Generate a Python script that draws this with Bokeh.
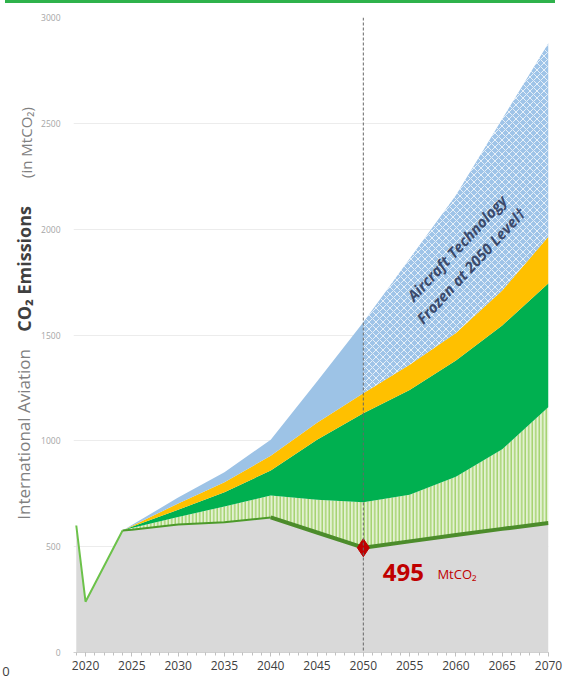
import math
from bokeh.plotting import figure
from bokeh.models import Range1d, FixedTicker, Span, Div
from bokeh.layouts import row, column
from bokeh.embed import file_html
from bokeh.resources import INLINE
from bokeh.core.properties import value

# ---- data (MtCO2) ----
hist_years = [2019, 2020, 2024]
hist_vals = [600, 240, 576]

years = [2024, 2025, 2030, 2035, 2040, 2045, 2050, 2055, 2060, 2065, 2070]
residual = [576, 580, 605, 615, 638, 567, 495, 525, 555, 584, 612]      # grey area top
hatched_top = [576, 588, 640, 690, 742, 722, 710, 745, 830, 960, 1160]   # light green hatched
green_top = [576, 594, 675, 757, 860, 1005, 1130, 1240, 1380, 1545, 1745]
orange_top = [576, 598, 704, 804, 930, 1085, 1225, 1360, 1510, 1710, 1965]
blue_top = [576, 602, 732, 852, 1005, 1280, 1560, 1860, 2160, 2520, 2880]

x_ticks = [2020, 2025, 2030, 2035, 2040, 2045, 2050, 2055, 2060, 2065, 2070]
y_ticks = [0, 500, 1000, 1500, 2000, 2500, 3000]
marker_year = 2050
marker_val = 495

FONT = "Open Sans"
LEFT_W = 36
FIG_H = 678

# ---- main chart ----
p = figure(width=563 - LEFT_W, height=FIG_H, output_backend="svg", toolbar_location=None,
           x_range=Range1d(2018.7, 2070), y_range=Range1d(0, 3000),
           min_border_left=73 - LEFT_W, min_border_right=15, min_border_top=14,
           min_border_bottom=29)
p.outline_line_color = None
p.background_fill_color = "white"

gx = hist_years + years[1:]
gy = hist_vals + residual[1:]
p.varea(x=gx, y1=[0] * len(gx), y2=gy, fill_color="#d9d9d9")

p.varea(x=years, y1=residual, y2=hatched_top, fill_color="#e3f1d2",
        hatch_pattern="vertical_line", hatch_color="#9ccf63",
        hatch_scale=3.5, hatch_weight=1.3)
p.varea(x=years, y1=hatched_top, y2=green_top, fill_color="#00b050")
p.varea(x=years, y1=green_top, y2=orange_top, fill_color="#ffc000")
i50 = years.index(2050)
p.varea(x=years[:i50 + 1], y1=orange_top[:i50 + 1], y2=blue_top[:i50 + 1],
        fill_color="#9dc3e6")
p.varea(x=years[i50:], y1=orange_top[i50:], y2=blue_top[i50:],
        fill_color="#9fc4e8", hatch_pattern="diagonal_cross",
        hatch_color="white", hatch_scale=7, hatch_weight=1.0, hatch_alpha=0.75)

p.line(hist_years, hist_vals, line_color="#6cc24a", line_width=2)
i40 = years.index(2040)
p.line(years[:i40 + 1], residual[:i40 + 1], line_color="#4c9a2a", line_width=2)
p.line(years[i40:], residual[i40:], line_color="#4c8c2b", line_width=4)

p.add_layout(Span(location=marker_year, dimension="height", line_color="#666666",
                  line_width=1, line_dash="3 2"))

p.scatter([marker_year], [marker_val], marker="diamond", size=18,
          fill_color="#c00000", line_color="#c00000")

p.text(x=[2052.1], y=[380], text=["495"], text_font=value(FONT),
       text_font_size="24px", text_font_style="bold", text_color="#c00000",
       text_baseline="middle", text_align="left")
p.text(x=[2058.0], y=[372], text=["MtCO₂"], text_font=value(FONT),
       text_font_size="13px", text_color="#c00000",
       text_baseline="middle", text_align="left")

ang = math.radians(47)
p.text(x=[2060.1], y=[1912], text=["Aircraft Technology"], text_font=value(FONT),
       text_font_size="15px", text_font_style="bold italic", text_color="#3b4a6b",
       text_baseline="middle", text_align="center", angle=ang)
p.text(x=[2061.6], y=[1828], text=["Frozen at 2050 Level†"], text_font=value(FONT),
       text_font_size="15px", text_font_style="bold italic", text_color="#3b4a6b",
       text_baseline="middle", text_align="center", angle=ang)

p.xaxis.ticker = FixedTicker(ticks=x_ticks, minor_ticks=list(range(2019, 2071)))
p.xaxis.axis_line_color = "#d0d0d0"
p.xaxis.major_tick_line_color = "#c0c0c0"
p.xaxis.minor_tick_line_color = "#c0c0c0"
p.xaxis.major_tick_out = 4
p.xaxis.major_tick_in = 0
p.xaxis.minor_tick_out = 3
p.xaxis.minor_tick_in = 0
p.xaxis.major_label_text_font = FONT
p.xaxis.major_label_text_font_size = "12px"
p.xaxis.major_label_text_color = "#404040"
p.xaxis.major_label_standoff = 4

p.yaxis.ticker = FixedTicker(ticks=y_ticks)
p.yaxis.axis_line_color = None
p.yaxis.major_tick_line_color = None
p.yaxis.minor_tick_line_color = None
p.yaxis.major_tick_out = 0
p.yaxis.major_tick_in = 0
p.yaxis.minor_tick_out = 0
p.yaxis.minor_tick_in = 0
p.yaxis.major_label_text_font = FONT
p.yaxis.major_label_text_font_size = "8.5px"
p.yaxis.major_label_text_color = "#a6a6a6"
p.yaxis.major_label_standoff = 13

p.xgrid.grid_line_color = None
p.ygrid.grid_line_color = "#ececec"

# ---- left strip with the y-axis title (shares the value scale) ----
t = figure(width=LEFT_W, height=FIG_H, output_backend="svg", toolbar_location=None,
           x_range=Range1d(0, LEFT_W), y_range=p.y_range, y_axis_type=None,
           min_border_left=0, min_border_right=0, min_border_top=14,
           min_border_bottom=29)
t.outline_line_color = None
t.grid.visible = False
t.xaxis.ticker = FixedTicker(ticks=[5.5])
t.xaxis.major_label_overrides = {5.5: "0"}
t.xaxis.axis_line_color = None
t.xaxis.major_tick_line_color = None
t.xaxis.minor_tick_line_color = None
t.xaxis.major_tick_out = 4
t.xaxis.major_label_standoff = 10
t.xaxis.major_label_text_font = FONT
t.xaxis.major_label_text_font_size = "13px"
t.xaxis.major_label_text_color = "#404040"

title_parts = ["International Aviation", "CO₂ Emissions", "(in MtCO₂)"]
title_start = [627, 1515, 2242]
t.text(x=[23.0], y=[title_start[0]], text=[title_parts[0]], text_font=value(FONT),
       text_font_size="17px", text_color="#808080", angle=math.pi / 2,
       text_baseline="middle", text_align="left")
t.text(x=[23.0], y=[title_start[1]], text=[title_parts[1]], text_font=value(FONT),
       text_font_size="18px", text_font_style="bold", text_color="#404040",
       angle=math.pi / 2, text_baseline="middle", text_align="left")
t.text(x=[25.5], y=[title_start[2]], text=[title_parts[2]], text_font=value(FONT),
       text_font_size="15px", text_color="#808080", angle=math.pi / 2,
       text_baseline="middle", text_align="left")

bar = Div(width=550, height=3, margin=(0, 0, 0, 5),
          styles={"background-color": "#2eb24b"})

layout = column(bar, row(t, p, spacing=0), spacing=0)

open("out.html", "w").write(file_html(layout, INLINE))
